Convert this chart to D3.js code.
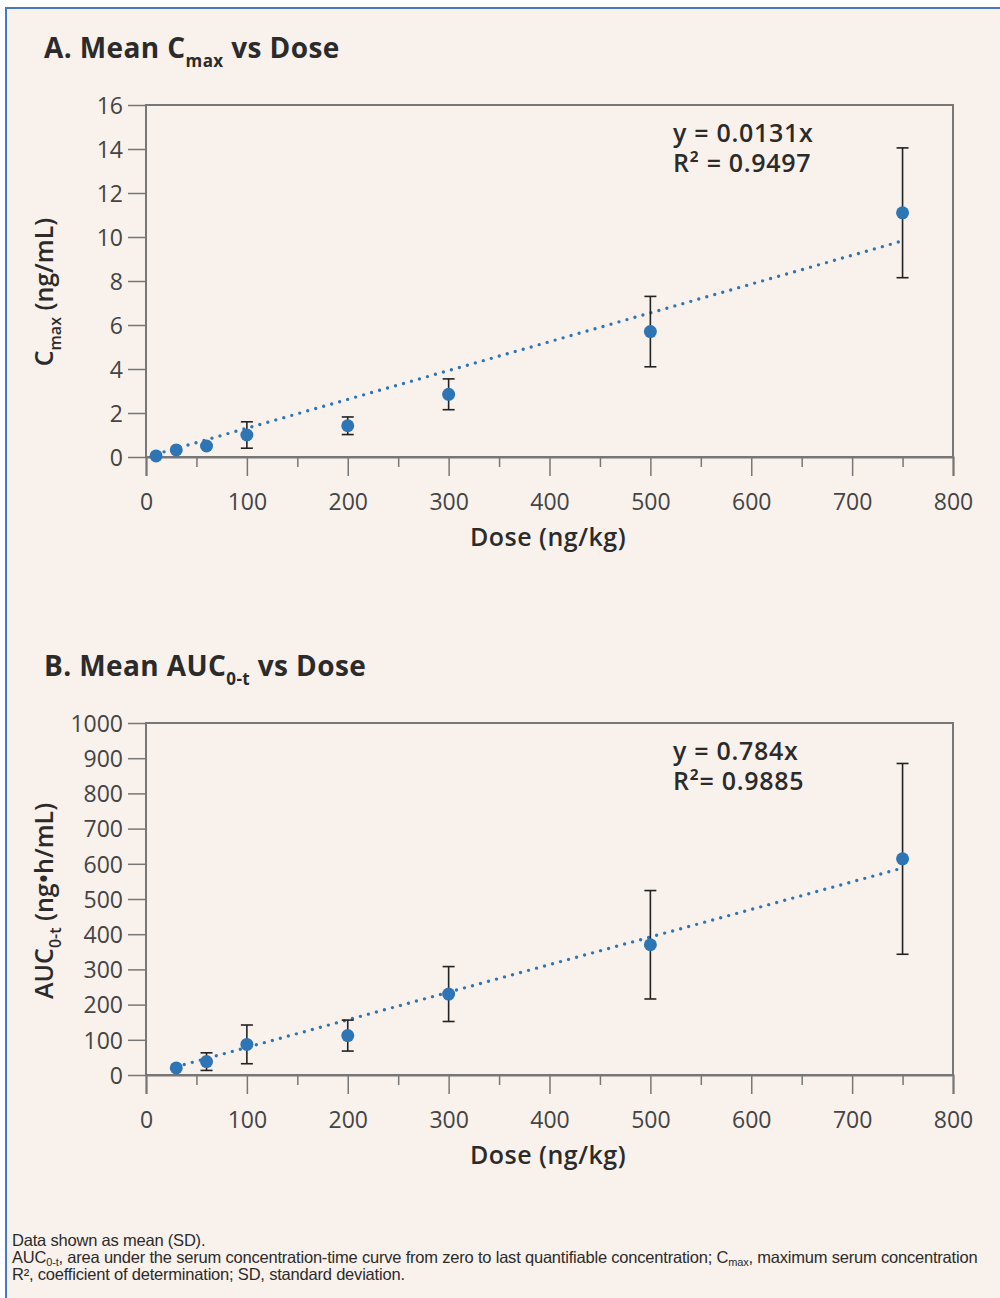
<!DOCTYPE html>
<html><head><meta charset="utf-8">
<script src="https://cdn.jsdelivr.net/npm/d3@7"></script>
<style>html,body{margin:0;padding:0;background:#fff;}svg{display:block;}</style>
</head><body>
<svg id="chart" width="1000" height="1298"></svg>
<script>
// ---- data ----
const dosesA = [10, 30, 60, 100, 200, 300, 500, 750];
const cmaxMean = [0.05, 0.32, 0.5, 1.0, 1.42, 2.85, 5.7, 11.1];
const cmaxSD = [null, null, null, 0.6, 0.4, 0.7, 1.6, 2.95];
const slopeA = 0.0131;
const eqA = ["y = 0.0131x", "R² = 0.9497"];

const dosesB = [30, 60, 100, 200, 300, 500, 750];
const aucMean = [20, 38, 87, 112, 230, 370, 614];
const aucSD = [null, 25, 55, 44, 78, 154, 271];
const slopeB = 0.784;
const eqB = ["y = 0.784x", "R²= 0.9885"];

const xMajorTicks = [0, 100, 200, 300, 400, 500, 600, 700, 800];
const xMinorTicks = [50, 150, 250, 350, 450, 550, 650, 750];
const yTicksA = [0, 2, 4, 6, 8, 10, 12, 14, 16];
const yTicksB = [0, 100, 200, 300, 400, 500, 600, 700, 800, 900, 1000];

// ---- styling ----
const BG = "#f9f1eb", BLUE = "#2e75b6", AX = "#777", TXT = "#2b2b2b";
const FONT = "'Open Sans', 'Noto Sans', sans-serif";

const svg = d3.select("#chart");
svg.append("rect").attr("x", 0).attr("y", 0).attr("width", 1000).attr("height", 1298).attr("fill", "#fff");
svg.append("rect").attr("x", 6).attr("y", 8).attr("width", 1010).attr("height", 1310)
  .attr("fill", BG).attr("stroke", "#4a78c8").attr("stroke-width", 2);

function subText(g, x, y, parts, opts) {
  const t = g.append("text").attr("x", x).attr("y", y)
    .attr("font-family", FONT).attr("font-size", opts.size).attr("font-weight", opts.weight)
    .attr("fill", TXT);
  if (opts.anchor) t.attr("text-anchor", opts.anchor);
  if (opts.transform) t.attr("transform", opts.transform);
  if (opts.ls) t.attr("letter-spacing", opts.ls);
  let shift = 0;
  parts.forEach(p => {
    const s = t.append("tspan").text(p.t);
    if (p.sub) { s.attr("font-size", opts.subSize).attr("dy", opts.subDy - shift); shift = opts.subDy; }
    else if (shift !== 0) { s.attr("dy", -shift); shift = 0; }
  });
  return t;
}

function panel(cfg) {
  const L = 146, R = 953, T = cfg.top, B = cfg.top + 352;
  const x = d3.scaleLinear().domain([0, 800]).range([L, R]);
  const y = d3.scaleLinear().domain([0, cfg.yMax]).range([B, T]);
  const g = svg.append("g");

  // title
  subText(g, 44, T - 47, cfg.title, {size: 28, weight: 700, subSize: 17, subDy: 9, ls: 0.4});

  // frame
  g.append("rect").attr("x", L).attr("y", T).attr("width", R - L).attr("height", B - T)
    .attr("fill", "none").attr("stroke", AX).attr("stroke-width", 2);

  // y axis
  const ya = g.append("g").attr("transform", `translate(${L},0)`)
    .call(d3.axisLeft(y).tickValues(cfg.yTicks).tickSize(18).tickPadding(5).tickFormat(d3.format("d")));
  ya.select(".domain").remove();
  ya.selectAll(".tick line").attr("stroke", AX).attr("stroke-width", 1.5);
  ya.selectAll(".tick text").attr("font-family", FONT).attr("font-size", 23).attr("fill", "#444").attr("dy", "0.36em");

  // x axis
  const xa = g.append("g").attr("transform", `translate(0,${B})`)
    .call(d3.axisBottom(x).tickValues(xMajorTicks).tickSize(19).tickPadding(18));
  xa.select(".domain").attr("stroke", AX).attr("stroke-width", 2);
  xa.selectAll(".tick line").attr("stroke", AX).attr("stroke-width", 1.5);
  xa.selectAll(".tick text").attr("font-family", FONT).attr("font-size", 23).attr("fill", "#444");
  const xm = g.append("g").attr("transform", `translate(0,${B})`)
    .call(d3.axisBottom(x).tickValues(xMinorTicks).tickSize(10).tickFormat(""));
  xm.select(".domain").remove();
  xm.selectAll(".tick line").attr("stroke", AX).attr("stroke-width", 1.5);

  // axis labels
  g.append("text").attr("x", 548).attr("y", B + 89).attr("text-anchor", "middle")
    .attr("font-family", FONT).attr("font-size", 25).attr("font-weight", 600).attr("fill", TXT)
    .attr("letter-spacing", 0.5).text("Dose (ng/kg)");
  subText(g, 0, 0, cfg.ylabel, {size: 25, weight: 600, subSize: 16, subDy: 8, anchor: "middle",
    transform: `translate(53,${cfg.ylabelY}) rotate(-90)`});

  // trend line
  const xs = d3.extent(cfg.doses);
  g.append("line").attr("x1", x(xs[0])).attr("y1", y(cfg.slope * xs[0]))
    .attr("x2", x(xs[1])).attr("y2", y(cfg.slope * xs[1]))
    .attr("stroke", BLUE).attr("stroke-width", 3.4).attr("stroke-linecap", "round")
    .attr("stroke-dasharray", "0,8.3");

  // error bars
  cfg.doses.forEach((d, i) => {
    const sd = cfg.sd[i];
    if (sd == null) return;
    const m = cfg.mean[i];
    const cx = x(d);
    const eg = g.append("g").attr("stroke", "#222").attr("stroke-width", 1.6);
    eg.append("line").attr("x1", cx).attr("x2", cx).attr("y1", y(m + sd)).attr("y2", y(m - sd));
    [m + sd, m - sd].forEach(v => eg.append("line").attr("x1", cx - 6).attr("x2", cx + 6).attr("y1", y(v)).attr("y2", y(v)));
  });

  // points
  g.selectAll("circle.pt").data(cfg.doses).enter().append("circle")
    .attr("cx", d => x(d)).attr("cy", (d, i) => y(cfg.mean[i])).attr("r", 6.5).attr("fill", BLUE);

  // equation (one text block, two lines)
  const eq = g.append("text").attr("x", 673).attr("y", T + 37).attr("font-family", FONT).attr("font-size", 25)
    .attr("font-weight", 600).attr("fill", TXT).attr("letter-spacing", 0.7);
  cfg.eq.forEach((s, k) => {
    eq.append("tspan").attr("x", 673).attr("dy", k === 0 ? 0 : 30).text(s);
  });
}

panel({top: 105, yMax: 16, yTicks: yTicksA, doses: dosesA, mean: cmaxMean, sd: cmaxSD, slope: slopeA, eq: eqA,
  title: [{t: "A. Mean C"}, {t: "max", sub: true}, {t: " vs Dose"}],
  ylabel: [{t: "C"}, {t: "max", sub: true}, {t: " (ng/mL)"}], ylabelY: 292});
panel({top: 723, yMax: 1000, yTicks: yTicksB, doses: dosesB, mean: aucMean, sd: aucSD, slope: slopeB, eq: eqB,
  title: [{t: "B. Mean AUC"}, {t: "0-t", sub: true}, {t: " vs Dose"}],
  ylabel: [{t: "AUC"}, {t: "0-t", sub: true}, {t: " (ng•h/mL)"}], ylabelY: 901});

// footnotes (one text block, three lines)
const FN = "'Liberation Sans', sans-serif";
const fn = svg.append("text").attr("x", 12).attr("y", 1246).attr("font-family", FN).attr("font-size", 16.5)
  .attr("fill", TXT).attr("letter-spacing", -0.2);
fn.append("tspan").attr("x", 12).attr("dy", 0).text("Data shown as mean (SD).");
fn.append("tspan").attr("x", 12).attr("dy", 17).text("AUC");
fn.append("tspan").text("0-t").attr("font-size", 11).attr("dy", 3);
fn.append("tspan").text(", area under the serum concentration-time curve from zero to last quantifiable concentration; C").attr("dy", -3);
fn.append("tspan").text("max").attr("font-size", 11).attr("dy", 3);
fn.append("tspan").text(", maximum serum concentration").attr("dy", -3);
fn.append("tspan").attr("x", 12).attr("dy", 17).text("R², coefficient of determination; SD, standard deviation.");
</script>
</body></html>
